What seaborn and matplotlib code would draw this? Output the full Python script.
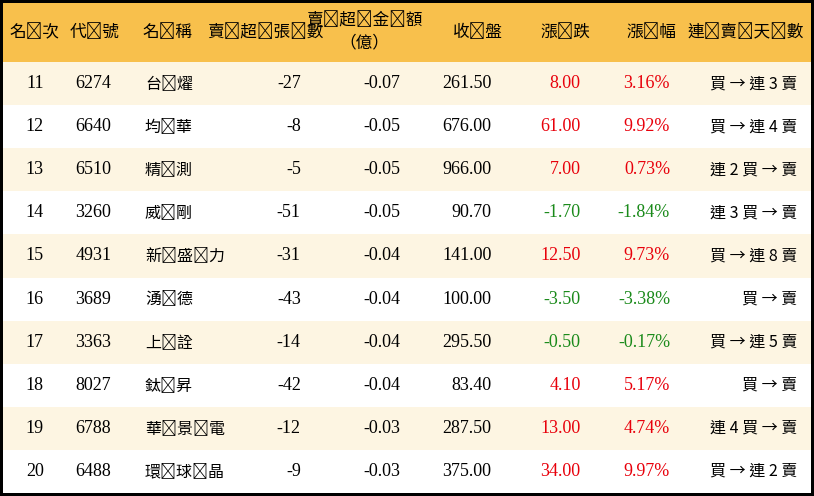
import matplotlib
matplotlib.use("Agg")
import matplotlib.pyplot as plt
import seaborn as sns
import numpy as np

headers = ["名次", "代號", "名稱", "賣超張數", "賣超金額", "收盤", "漲跌", "漲幅", "連賣天數"]
sub_header = "（億）"
rank = [11, 12, 13, 14, 15, 16, 17, 18, 19, 20]
codes = ["6274", "6640", "6510", "3260", "4931", "3689", "3363", "8027", "6788", "6488"]
names = ["台燿", "均華", "精測", "威剛", "新盛力", "湧德", "上詮", "鈦昇", "華景電", "環球晶"]
sell_lots = [-27, -8, -5, -51, -31, -43, -14, -42, -12, -9]
sell_amt = [-0.07, -0.05, -0.05, -0.05, -0.04, -0.04, -0.04, -0.04, -0.03, -0.03]
close = [261.50, 676.00, 966.00, 90.70, 141.00, 100.00, 295.50, 83.40, 287.50, 375.00]
change = [8.00, 61.00, 7.00, -1.70, 12.50, -3.50, -0.50, 4.10, 13.00, 34.00]
pct = [3.16, 9.92, 0.73, -1.84, 9.73, -3.38, -0.17, 5.17, 4.74, 9.97]
streak = ["買 → 連 3 賣", "買 → 連 4 賣", "連 2 買 → 賣", "連 3 買 → 賣", "買 → 連 8 賣",
          "買 → 賣", "買 → 連 5 賣", "買 → 賣", "連 4 買 → 賣", "買 → 連 2 賣"]

W, H = 814, 496
HEAD = 62
fig = plt.figure(figsize=(W / 100, H / 100), dpi=100)
fig.patch.set_facecolor("black")
b = 3
axh = fig.add_axes([b / W, (H - HEAD) / H, (W - 2 * b) / W, (HEAD - b) / H])
axh.set_xlim(0, W); axh.set_ylim(1, 0); axh.axis("off")
axh.add_patch(plt.Rectangle((0, 0), W, 1, color="#F8C04C"))
axb = fig.add_axes([b / W, b / H, (W - 2 * b) / W, (H - HEAD - b) / H])
stripe = np.array([[i % 2] for i in range(10)])
sns.heatmap(stripe, ax=axb, cmap=matplotlib.colors.ListedColormap(["#FDF5E2", "#FFFFFF"]),
            cbar=False, xticklabels=False, yticklabels=False)
axb.set_xlim(0, 1)

cjk = "Noto Sans CJK TC"
ser = "Liberation Serif"
hfs, cfs, nfs = 12, 11.5, 13
sp = lambda s: "\u2009".join(s)

cols = [(32, "center"), (73, "left"), (143, "left"), (300, "right"), (400, "right"),
        (492, "right"), (582, "right"), (672, "right"), (800, "right")]
hx = [32, 92, 166, 264, 364, 478, 567, 653, 748]
for i, h in enumerate(headers):
    if i == 4:
        axh.text(hx[i], 0.30, sp(h), ha="center", va="center", fontfamily=cjk, fontsize=hfs)
        axh.text(hx[i], 0.68, sub_header, ha="center", va="center", fontfamily=cjk, fontsize=hfs)
    else:
        axh.text(hx[i], 0.5, sp(h), ha="center", va="center", fontfamily=cjk, fontsize=hfs)

tr = lambda x: x / W
red, green = "#E8000B", "#1A8A1A"
for r in range(10):
    y = r + 0.5
    c = red if change[r] > 0 else green
    vals = [(str(rank[r]), ser, "black"), (codes[r], ser, "black"), (sp(names[r]), cjk, "black"),
            (f"{sell_lots[r]}", ser, "black"), (f"{sell_amt[r]:.2f}", ser, "black"),
            (f"{close[r]:.2f}", ser, "black"), (f"{change[r]:.2f}", ser, c),
            (f"{pct[r]:.2f}%", ser, c), (streak[r], cjk, "black")]
    for (x, ha), (t, f, col) in zip(cols, vals):
        axb.text(tr(x), y, t, ha=ha, va="center", fontfamily=f, color=col,
                 fontsize=cfs if f == cjk else nfs)

fig.savefig("out.png", dpi=100, facecolor="black")
